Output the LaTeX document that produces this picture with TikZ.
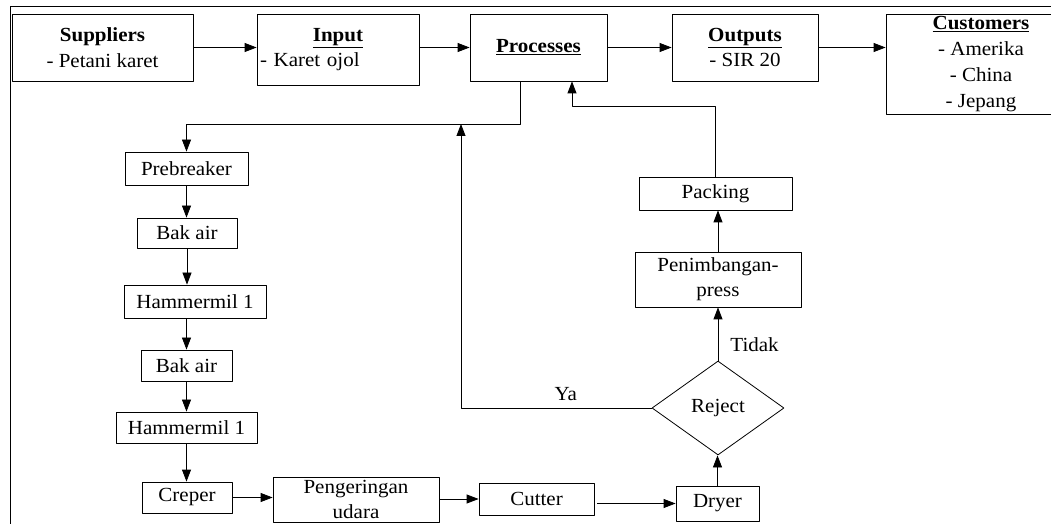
\documentclass[tikz,border=0pt]{standalone}
\usepackage{fontspec}
\setmainfont{Liberation Serif}[FakeStretch=1.05]
\usetikzlibrary{arrows.meta,shapes.geometric}

\begin{document}
\begin{tikzpicture}[x=0.75pt,y=-0.75pt,line join=round,line width=0.6pt,
	box/.style={draw,inner sep=0pt,align=center,font=\fontsize{15}{19}\selectfont},
	sz/.style 2 args={minimum width={#1*0.75pt},minimum height={#2*0.75pt}},
	lbl/.style={inner sep=0pt,font=\fontsize{15}{19}\selectfont},
	arr/.style={-{Triangle[length=9pt,width=6.75pt]}}]
			\useasboundingbox (0,0) rectangle (1051,524);
			\draw[line width=0.75pt] (10,530)--(10,7)--(1060,7);
			% top row
			\node[box,sz={181}{67}] (sup) at (102.5,47.5) {\textbf{Suppliers}\\- Petani karet};
			\node[box,sz={162}{71},text width=117pt,align=left] (inp) at (338,49.5) {\makebox[117pt]{\underline{\textbf{Input}}}\\- Karet ojol};
			\node[box,sz={137}{67}] (proc) at (538.5,47.5) {\underline{\textbf{Processes}}};
			\node[box,sz={146}{67}] (outp) at (745,47.5) {\underline{\textbf{Outputs}}\\- SIR 20};
			\node[box,sz={190}{100},font=\fontsize{15}{19.5}\selectfont] (cust) at (981,64) {\underline{\textbf{Customers}}\\- Amerika\\- China\\- Jepang};
			% left column
			\node[box,sz={123}{33}] (pre) at (186.5,168.5) {Prebreaker};
			\node[box,sz={100}{30}] (bak1) at (187,233) {Bak air};
			\node[box,sz={142}{33}] (ham1) at (195,301.5) {Hammermil 1};
			\node[box,sz={91}{31}] (bak2) at (186.5,365.5) {Bak air};
			\node[box,sz={141}{31}] (ham2) at (186.5,427.5) {Hammermil 1};
			\node[box,sz={90}{31}] (crep) at (187,497.5) {Creper};
			% bottom row and right column
			\node[box,sz={166}{45}] (peng) at (356,499.5) {Pengeringan\\udara};
			\node[box,sz={115}{32}] (cut) at (536.5,499) {Cutter};
			\node[box,sz={83}{35}] (dry) at (717.5,503.5) {Dryer};
			\node[box,diamond,aspect=1.4,sz={132}{94}] (rej) at (718,408) {Reject};
			\node[box,sz={166}{55}] (pen) at (718,279.5) {Penimbangan-\\press};
			\node[box,sz={153}{33}] (pack) at (715.5,193.5) {Packing};
			\coordinate (split) at (520,124);
			\coordinate (merge) at (461,124);
			\coordinate (back) at (572,106);
			% connectors
			\draw[arr] (sup.east)--(sup.east-|inp.west);
			\draw[arr] (sup.east-|inp.east)--(sup.east-|proc.west);
			\draw[arr] (proc.east)--(outp.west);
			\draw[arr] (outp.east)--(outp.east-|cust.west);
			\draw[arr] (split|-proc.south)--(split)-|(pre.north);
			\draw[arr] (pre.south)--(pre.south|-bak1.north);
			\draw[arr] (bak1.south)--(bak1.south|-ham1.north);
			\draw[arr] (bak2.north|-ham1.south)--(bak2.north);
			\draw[arr] (bak2.south)--(ham2.north);
			\draw[arr] (ham2.south)--(ham2.south|-crep.north);
			\draw[arr] (crep.east)--(crep.east-|peng.west);
			\draw[arr] (peng.east|-cut.west)--(cut.west);
			\draw[arr] ([xshift=2pt]cut.east|-dry.west)--(dry.west);
			\draw[arr] (dry.north)--(dry.north|-rej.south);
			\draw[arr] (rej.north)--(rej.north|-pen.south) node[lbl,pos=0.3,anchor=west,xshift=9pt] (tidak) {Tidak};
			\draw[arr] (rej.west)-|(merge) node[lbl,pos=0.225,anchor=south,yshift=5pt] (ya) {Ya};
			\draw[arr] (pen.north)--(pen.north|-pack.south);
			\draw[arr] (pack.north)|-(back)--(back|-proc.south);
		\end{tikzpicture}
\end{document}
